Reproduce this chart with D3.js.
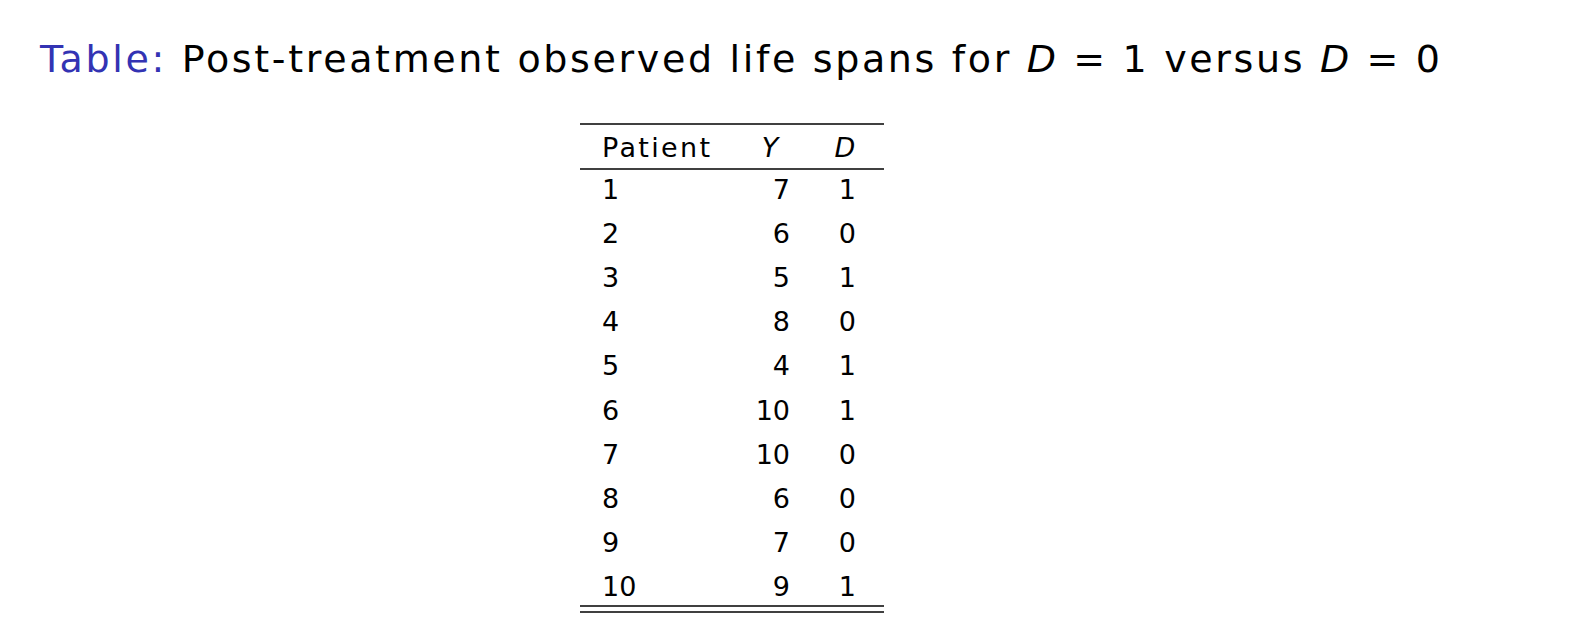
<!DOCTYPE html><html><head><meta charset="utf-8">
<script src="https://cdn.jsdelivr.net/npm/d3@7"></script>
<style>body{margin:0;background:#fff}</style></head><body>
<svg id="c" width="1582" height="638"></svg>
<script>
const patients=[1,2,3,4,5,6,7,8,9,10];
const yVals=[7,6,5,8,4,10,10,6,7,9];
const dVals=[1,0,1,0,1,1,0,0,0,1];
const headers=["Patient","Y","D"];
const svg=d3.select("#c");
const font="'DejaVu Sans', sans-serif";
const t=svg.append("text").attr("x",40).attr("y",72).attr("font-family",font).attr("font-size",38).attr("fill","#000")
  .attr("textLength",1400).attr("lengthAdjust","spacing");
t.append("tspan").attr("fill","#3333b3").text("Table:");
t.append("tspan").text(" Post-treatment observed life spans for ");
t.append("tspan").attr("font-style","italic").text("D");
t.append("tspan").text(" = 1 versus ");
t.append("tspan").attr("font-style","italic").text("D");
t.append("tspan").text(" = 0");
const y=d3.scalePoint().domain(patients).range([199,596]);
const x0=580,x1=884;
const line=(yy,w)=>svg.append("line").attr("x1",x0).attr("x2",x1).attr("y1",yy).attr("y2",yy).attr("stroke","#000").attr("stroke-width",w||1.5);
line(124);line(169);line(606);line(612);
const fs=27;
const hd=svg.append("g").attr("font-family",font).attr("font-size",fs);
hd.append("text").attr("x",602).attr("y",157).attr("textLength",108).text(headers[0]);
hd.append("text").attr("x",770).attr("y",157).attr("text-anchor","middle").attr("font-style","italic").text(headers[1]);
hd.append("text").attr("x",845).attr("y",157).attr("text-anchor","middle").attr("font-style","italic").text(headers[2]);
const g=svg.append("g").attr("font-family",font).attr("font-size",fs);
g.selectAll(".p").data(patients).join("text").attr("x",602).attr("y",d=>y(d)).text(d=>d);
g.selectAll(".y").data(patients).join("text").attr("x",790).attr("text-anchor","end").attr("y",d=>y(d)).text((d,i)=>yVals[i]);
g.selectAll(".d").data(patients).join("text").attr("x",856).attr("text-anchor","end").attr("y",d=>y(d)).text((d,i)=>dVals[i]);
</script></body></html>
